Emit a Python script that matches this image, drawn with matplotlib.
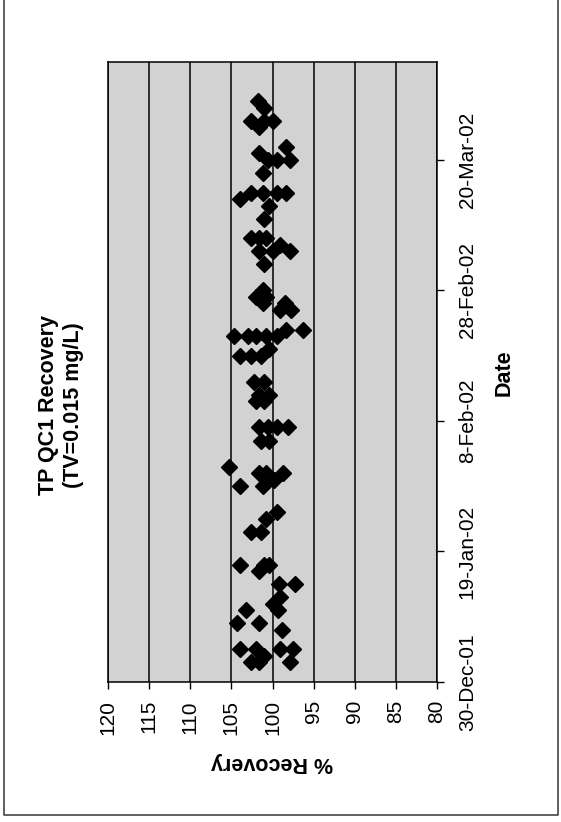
import matplotlib
matplotlib.use('Agg')
import matplotlib.pyplot as plt
import matplotlib.dates as mdates
import matplotlib.ticker as mticker
from matplotlib.lines import Line2D
import pandas as pd

### QC1 recovery values, one entry per sample (date)
sample_dates = [
	'2002-01-02', '2002-01-02', '2002-01-02', '2002-01-03',
	'2002-01-04', '2002-01-04', '2002-01-04', '2002-01-04',
	'2002-01-07', '2002-01-08', '2002-01-08', '2002-01-10', '2002-01-10',
	'2002-01-11', '2002-01-12', '2002-01-14', '2002-01-14', '2002-01-16',
	'2002-01-17', '2002-01-17', '2002-01-17', '2002-01-22', '2002-01-22',
	'2002-01-24', '2002-01-25', '2002-01-29', '2002-01-29', '2002-01-30',
	'2002-01-31', '2002-01-31', '2002-01-31', '2002-02-01',
	'2002-02-05', '2002-02-05', '2002-02-07', '2002-02-07', '2002-02-07', '2002-02-07',
	'2002-02-11', '2002-02-11', '2002-02-12', '2002-02-12', '2002-02-14', '2002-02-14',
	'2002-02-18', '2002-02-18', '2002-02-18', '2002-02-19',
	'2002-02-21', '2002-02-21', '2002-02-21', '2002-02-21', '2002-02-21',
	'2002-02-22', '2002-02-22', '2002-02-25', '2002-02-25', '2002-02-26', '2002-02-26',
	'2002-02-27', '2002-02-27', '2002-02-28', '2002-03-04',
	'2002-03-06', '2002-03-06', '2002-03-06', '2002-03-07',
	'2002-03-08', '2002-03-08', '2002-03-08', '2002-03-11', '2002-03-13', '2002-03-14',
	'2002-03-15', '2002-03-15', '2002-03-15', '2002-03-15', '2002-03-18',
	'2002-03-20', '2002-03-20', '2002-03-20', '2002-03-21', '2002-03-22', '2002-03-25',
	'2002-03-26', '2002-03-26', '2002-03-26', '2002-03-28', '2002-03-29',
]
recovery = [
	102.6, 101.6, 97.9, 101.0,
	103.9, 102.0, 99.1, 97.5,
	98.9, 104.3, 101.6, 103.2, 99.3,
	100.0, 99.1, 99.2, 97.3, 101.6,
	103.9, 101.0, 100.4, 102.6, 101.4,
	100.8, 99.5, 103.9, 101.2, 99.8,
	100.8, 101.6, 98.7, 105.3,
	101.4, 100.4, 101.6, 100.6, 99.5, 98.1,
	101.0, 102.0, 101.6, 100.4, 102.2, 101.0,
	103.9, 102.6, 101.4, 100.4,
	104.7, 103.0, 102.0, 100.8, 99.5,
	98.3, 96.3, 99.1, 97.7, 101.2, 98.5,
	102.0, 100.8, 101.2, 101.0,
	101.6, 100.0, 97.9, 99.1,
	102.6, 101.6, 100.8, 101.0, 100.4, 103.9,
	102.6, 101.2, 99.5, 98.4, 101.2,
	100.6, 97.9, 99.5, 101.6, 98.3, 101.6,
	102.6, 101.0, 100.0, 101.0, 101.8,
]

date_ticks = ['2001-12-30', '2002-01-19', '2002-02-08', '2002-02-28', '2002-03-20']
date_range = ['2001-12-30', '2002-04-04']
recovery_ticks = [120, 115, 110, 105, 100, 95, 90, 85, 80]

plt.rcParams['font.family'] = ['Liberation Sans', 'DejaVu Sans']

W, H = 561, 822
fig = plt.figure(figsize=(W / 100, H / 100), dpi=100)
fig.patch.set_facecolor('white')

### outer frame of the scanned page (left, bottom and right edges only)
fig.lines.append(Line2D([4 / W, 4 / W, 558 / W, 558 / W], [1.0, 7 / H, 7 / H, 1.0],
	transform=fig.transFigure, color='#444444', linewidth=1.2))

### the chart is turned 90 degrees: recovery runs across, date runs up
ax = fig.add_axes([108 / W, (H - 682) / H, (437 - 108) / W, (682 - 62) / H])
ax.set_facecolor('#d2d2d2')

dates = pd.to_datetime(sample_dates)
ax.plot(recovery, dates, linestyle='none', marker='D', markersize=8.3,
	color='black', markeredgecolor='black', zorder=3)

ax.set_xlim(recovery_ticks[0], recovery_ticks[-1])
ax.set_xticks(recovery_ticks)
ax.set_ylim(pd.to_datetime(date_range[0]), pd.to_datetime(date_range[1]))
ax.set_yticks(pd.to_datetime(date_ticks))
ax.yaxis.set_major_formatter(mticker.FuncFormatter(
	lambda v, pos: '{}-{}'.format(mdates.num2date(v).day, mdates.num2date(v).strftime('%b-%y'))))

ax.grid(axis='x', color='black', linewidth=1.1, zorder=1)
ax.set_axisbelow(True)
for s in ax.spines.values():
	s.set_color('black')
	s.set_linewidth(1.1)

ax.yaxis.tick_right()
ax.tick_params(axis='x', direction='out', length=5, width=1, pad=8, labelsize=15, labelrotation=90)
ax.tick_params(axis='y', direction='out', length=5, width=1, pad=10, labelsize=15, labelrotation=90)
for lbl in ax.get_yticklabels():
	lbl.set_verticalalignment('center')

### titles and axis names, written turned like the chart
fig.text(61 / W, 1 - 405 / H, 'TP QC1 Recovery\n(TV=0.015 mg/L)', rotation=90,
	ha='center', va='center', multialignment='center', fontsize=15.5, fontweight='bold',
	linespacing=1.3)
fig.text(504 / W, 1 - 373 / H, 'Date', rotation=90, ha='center', va='center',
	fontsize=15.5, fontweight='bold')
fig.text(272 / W, 1 - 762 / H, '% Recovery', rotation=180, ha='center', va='center',
	fontsize=15.5, fontweight='bold')

fig.savefig('out.png', dpi=100)
